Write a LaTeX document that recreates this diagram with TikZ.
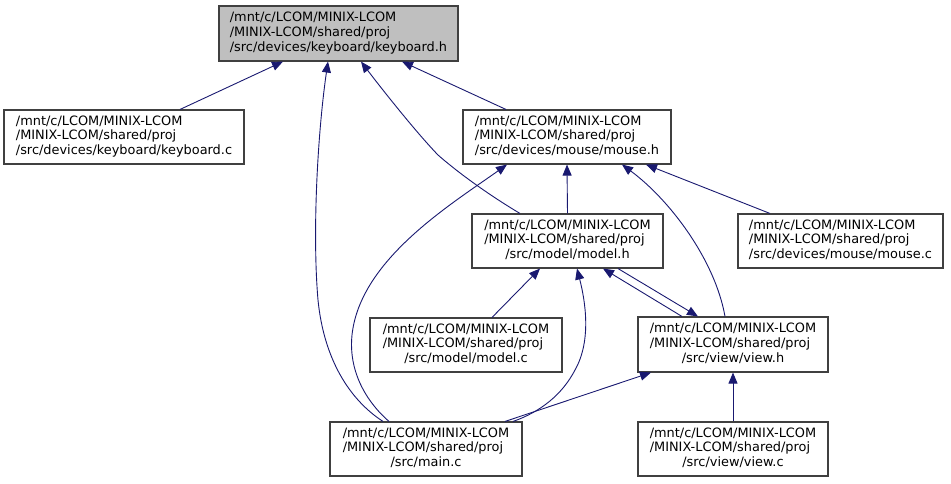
\documentclass[tikz,border=0pt]{standalone}
\usepackage{fontspec}
\setmainfont{DejaVu Sans}
\usetikzlibrary{arrows.meta}
\definecolor{edgeblue}{HTML}{191970}
\definecolor{boxline}{HTML}{404040}
\definecolor{boxgray}{HTML}{BFBFBF}
\newcommand{\dlabel}[3]{\begin{tabular}{@{}l@{}}#1\\#2\\\multicolumn{1}{@{}c@{}}{#3}\end{tabular}}
\tikzset{
  filebox/.style={draw=boxline, line width=1.1pt, fill=white, inner sep=0pt,
    minimum height=54pt, font=\fontsize{12.9}{14.6}\selectfont},
  edgeline/.style={draw=edgeblue, line width=0.9pt, {Triangle[length=11pt,width=9pt]}-},
  edgefwd/.style={draw=edgeblue, line width=0.9pt, -{Triangle[length=11pt,width=9pt]}}
}
\begin{document}
\begin{tikzpicture}[x=1pt,y=-1pt]
\useasboundingbox (0,0) rectangle (951,483);
% nodes
\node[filebox, fill=boxgray, minimum width=239pt, minimum height=55pt] (kbh) at (338.5,33.5)
  {\dlabel{/mnt/c/LCOM/MINIX-LCOM}{/MINIX-LCOM/shared/proj}{/src/devices/keyboard/keyboard.h}};
\node[filebox, minimum width=240pt] (kbc) at (124,137)
  {\dlabel{/mnt/c/LCOM/MINIX-LCOM}{/MINIX-LCOM/shared/proj}{/src/devices/keyboard/keyboard.c}};
\node[filebox, minimum width=208pt] (mouseh) at (567,137)
  {\dlabel{/mnt/c/LCOM/MINIX-LCOM}{/MINIX-LCOM/shared/proj}{/src/devices/mouse/mouse.h}};
\node[filebox, minimum width=205pt] (mousec) at (840.5,241)
  {\dlabel{/mnt/c/LCOM/MINIX-LCOM}{/MINIX-LCOM/shared/proj}{/src/devices/mouse/mouse.c}};
\node[filebox, minimum width=191pt] (modelh) at (567.5,241)
  {\dlabel{/mnt/c/LCOM/MINIX-LCOM}{/MINIX-LCOM/shared/proj}{/src/model/model.h}};
\node[filebox, minimum width=192pt] (modelc) at (466,345)
  {\dlabel{/mnt/c/LCOM/MINIX-LCOM}{/MINIX-LCOM/shared/proj}{/src/model/model.c}};
\node[filebox, minimum width=190pt, minimum height=55pt] (viewh) at (733,344.5)
  {\dlabel{/mnt/c/LCOM/MINIX-LCOM}{/MINIX-LCOM/shared/proj}{/src/view/view.h}};
\node[filebox, minimum width=192pt] (mainc) at (426,449)
  {\dlabel{/mnt/c/LCOM/MINIX-LCOM}{/MINIX-LCOM/shared/proj}{/src/main.c}};
\node[filebox, minimum width=190pt] (viewc) at (733,449)
  {\dlabel{/mnt/c/LCOM/MINIX-LCOM}{/MINIX-LCOM/shared/proj}{/src/view/view.c}};
% edges
\draw[edgeline] ([xshift=-55.5pt]kbh.south) -- ([xshift=56pt]kbc.north);
\draw[edgeline] ([xshift=63.5pt]kbh.south) -- ([xshift=-61pt]mouseh.north);
\draw[edgeline] ([xshift=22.5pt]kbh.south) .. controls (378,84) and (414,130) .. (438,155)
  .. controls (462,176) and (494,198) .. ([xshift=-47.5pt]modelh.north);
\draw[edgeline] ([xshift=-10.5pt]kbh.south) .. controls (318,130) and (312,230) .. (318,300)
  .. controls (324,360) and (350,400) .. ([xshift=-43pt]mainc.north);
\draw[edgeline] ([xshift=-60pt]mouseh.south) .. controls (450,205) and (360,260) .. (352,335)
  .. controls (348,375) and (370,405) .. ([xshift=-37pt]mainc.north);
\draw[edgeline] (mouseh.south) -- (modelh.north);
\draw[edgeline] ([xshift=55pt]mouseh.south) .. controls (670,200) and (715,260) .. ([xshift=-8pt]viewh.north);
\draw[edgeline] ([xshift=79pt]mouseh.south) -- ([xshift=-70.5pt]mousec.north);
\draw[edgeline] ([xshift=-27.5pt]modelh.south) -- ([xshift=26pt]modelc.north);
\draw[edgeline] ([xshift=9.5pt]modelh.south) .. controls (585,300) and (592,340) .. (575,370)
  .. controls (562,395) and (540,412) .. ([xshift=87pt]mainc.north);
\draw[edgeline] ([xshift=35.5pt]modelh.south) -- ([xshift=-51pt]viewh.north);
\draw[edgefwd] ([xshift=50.5pt]modelh.south) -- ([xshift=-35pt]viewh.north);
\draw[edgeline] ([xshift=-82pt]viewh.south) -- ([xshift=79pt]mainc.north);
\draw[edgeline] (viewh.south) -- (viewc.north);
\end{tikzpicture}
\end{document}
